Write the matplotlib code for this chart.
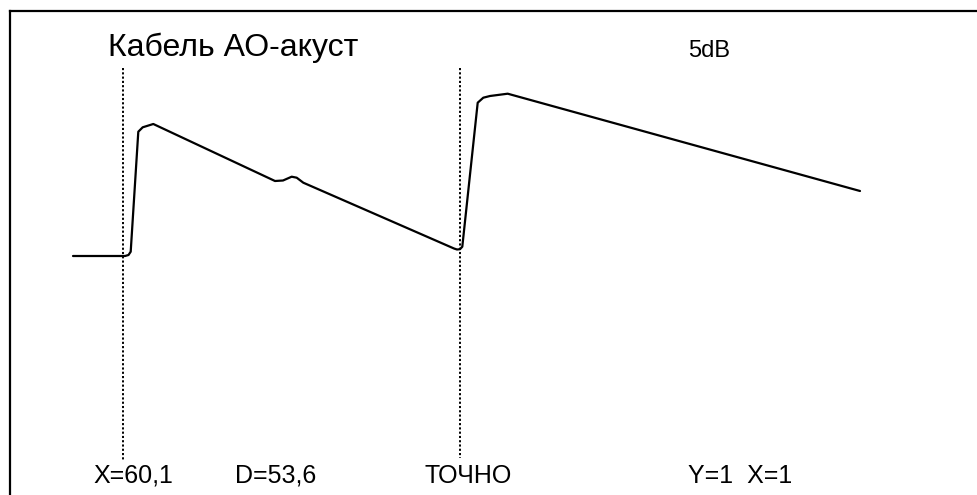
"""Reflectogram trace of a cable with two cursors."""

import matplotlib
matplotlib.use('Agg')
import matplotlib.pyplot as plt

# Trace (horizontal position, vertical position on screen)
trace_x = [73, 125, 128.5, 130.7, 138.3, 142.7, 153.3, 275, 283, 291.7,
           296.7, 303.3, 454, 457, 460, 462.3, 477.7, 483.3, 490, 507.7, 860]
trace_y = [256, 256, 255, 251.7, 131.7, 127.3, 124, 181, 180.5, 176.7,
           177.7, 182.7, 248.5, 249.5, 249.2, 246.7, 102.7, 97.7, 96, 93.7, 191]

# Cursor positions
cursor_x = [123, 460]
cursor_bottom = [460, 458]
cursor_top = 68

title = 'Кабель АО-акуст'
scale_label = '5dB'
status_labels = ['X=60,1', 'D=53,6', 'ТОЧНО', 'Y=1  X=1']
status_x = [93, 235, 425, 688]


def main():
    plt.rcParams['font.family'] = ['Liberation Sans', 'DejaVu Sans']

    fig = plt.figure(figsize=(9.78, 4.95), dpi=100)
    # Axes in screen pixels; frame shows only top and left edges
    left, top = 10, 11
    ax = fig.add_axes([left / 978, -0.1, 1.1, (495 - top) / 495 + 0.1])
    ax.set_xlim(left, left + 1.1 * 978)
    ax.set_ylim(495 + 0.1 * 495, top)
    for side in ('right', 'bottom'):
        ax.spines[side].set_visible(False)
    for side in ('top', 'left'):
        ax.spines[side].set_linewidth(1.6)
    ax.set_xticks([])
    ax.set_yticks([])

    # Trace
    ax.plot(trace_x, trace_y, color='black', lw=1.6,
            solid_joinstyle='round', solid_capstyle='round')

    # Cursors
    for cx, cb in zip(cursor_x, cursor_bottom):
        ax.plot([cx, cx], [cursor_top, cb], color='black', lw=1.4,
                dashes=(1.1, 1.1))

    # Labels
    ax.text(108, 56, title, fontsize=23, ha='left', va='baseline')
    ax.text(688, 57, scale_label, fontsize=17, ha='left', va='baseline')
    for sx, label in zip(status_x, status_labels):
        ax.text(sx, 483, label, fontsize=18, ha='left', va='baseline')

    plt.savefig('out.png', dpi=100)
    plt.close()


if __name__ == '__main__':
    main()
